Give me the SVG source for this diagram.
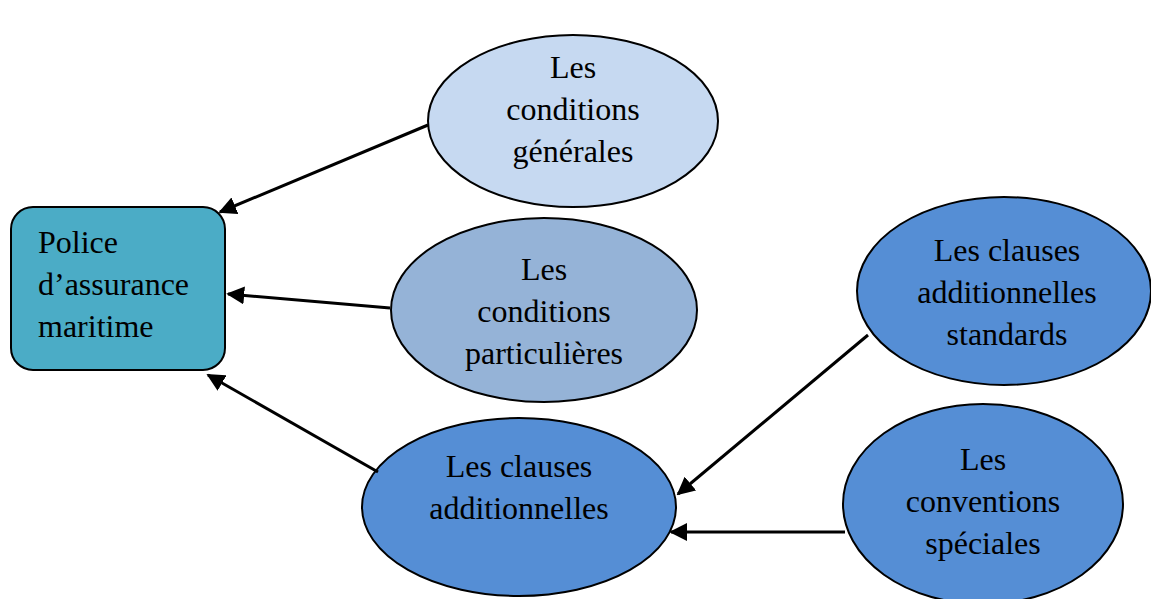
<svg xmlns="http://www.w3.org/2000/svg" width="1151" height="599" viewBox="0 0 1151 599">
<style>
.n{stroke:#000;stroke-width:2}
text{font-family:"Liberation Serif","Times New Roman",serif;font-size:32px;fill:#000}
.c{text-anchor:middle}
.e{stroke:#000;stroke-width:3;fill:none}
</style>
<defs>
<marker id="ah" viewBox="0 0 10 10" refX="9" refY="5" markerWidth="6" markerHeight="6" markerUnits="strokeWidth" orient="auto">
<path d="M0,0L10,5L0,10z" fill="#000"/>
</marker>
</defs>
<rect width="1151" height="599" fill="#fff"/>
<g id="police">
<rect class="n" x="11" y="207" width="214" height="163" rx="22" fill="#4BACC6"/>
<text x="38" y="253">Police</text>
<text x="38" y="295">d’assurance</text>
<text x="38" y="337">maritime</text>
</g>
<g id="generales">
<ellipse class="n" cx="573" cy="121" rx="145" ry="86" fill="#C6D9F1"/>
<text class="c" x="573" y="78">Les</text>
<text class="c" x="573" y="120">conditions</text>
<text class="c" x="573" y="162">générales</text>
</g>
<g id="particulieres">
<ellipse class="n" cx="544" cy="310" rx="153" ry="92" fill="#95B3D7"/>
<text class="c" x="544" y="280">Les</text>
<text class="c" x="544" y="322">conditions</text>
<text class="c" x="544" y="364">particulières</text>
</g>
<g id="additionnelles">
<ellipse class="n" cx="519" cy="507" rx="157" ry="89" fill="#558ED5"/>
<text class="c" x="519" y="477">Les clauses</text>
<text class="c" x="519" y="519">additionnelles</text>
</g>
<g id="standards">
<ellipse class="n" cx="1004" cy="291" rx="147" ry="94" fill="#558ED5"/>
<text class="c" x="1007" y="261">Les clauses</text>
<text class="c" x="1007" y="303">additionnelles</text>
<text class="c" x="1007" y="345">standards</text>
</g>
<g id="conventions">
<ellipse class="n" cx="983" cy="504" rx="140" ry="100" fill="#558ED5"/>
<text class="c" x="983" y="470">Les</text>
<text class="c" x="983" y="512">conventions</text>
<text class="c" x="983" y="554">spéciales</text>
</g>
<g id="connectors">
<line class="e" x1="428" y1="125" x2="220" y2="212" marker-end="url(#ah)"/>
<line class="e" x1="390" y1="308" x2="228" y2="294" marker-end="url(#ah)"/>
<line class="e" x1="378" y1="472" x2="208" y2="375" marker-end="url(#ah)"/>
<line class="e" x1="868" y1="335" x2="678" y2="494" marker-end="url(#ah)"/>
<line class="e" x1="845" y1="532" x2="671" y2="532" marker-end="url(#ah)"/>
</g>
</svg>
